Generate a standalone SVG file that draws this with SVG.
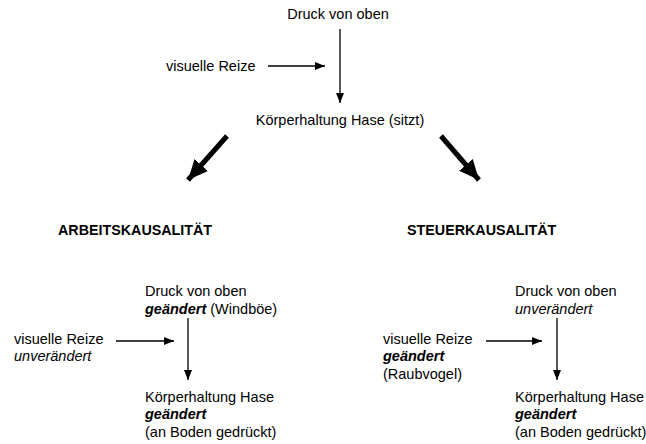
<svg xmlns="http://www.w3.org/2000/svg" width="646" height="444" viewBox="0 0 646 444">
<style>
text{font-family:"Liberation Sans",Arial,sans-serif;font-size:14.5px;fill:#000}
.h{font-weight:bold;font-size:14.3px}
.b{font-weight:bold;font-style:italic}
.i{font-style:italic}
.c{stroke:#000;stroke-width:1.3;fill:none}
.t{stroke:#000;stroke-width:5;fill:none}
</style>
<defs>
<marker id="a" viewBox="0 0 10 8" refX="10" refY="4" markerWidth="10" markerHeight="8" markerUnits="userSpaceOnUse" orient="auto"><path d="M0,0L10,4L0,8z" fill="#000"/></marker>
<marker id="A" viewBox="0 0 20 18" refX="20" refY="9" markerWidth="20" markerHeight="18" markerUnits="userSpaceOnUse" orient="auto"><path d="M0,0L20,9L0,18z" fill="#000"/></marker>
</defs>
<g id="top">
<g id="n-druck"><text x="338" y="19" text-anchor="middle">Druck von oben</text></g>
<g id="n-visuell"><text x="166" y="71">visuelle Reize</text></g>
<g id="n-koerper"><text x="340" y="125" text-anchor="middle">Körperhaltung Hase (sitzt)</text></g>
</g>
<g id="n-arbeit"><text class="h" x="58" y="235">ARBEITSKAUSALITÄT</text></g>
<g id="n-steuer"><text class="h" x="407" y="235">STEUERKAUSALITÄT</text></g>
<g id="left">
<g id="l-druck"><text x="145" y="296">Druck von oben</text><text x="145" y="313.5"><tspan class="b">geändert</tspan> (Windböe)</text></g>
<g id="l-visuell"><text x="14" y="343.5">visuelle Reize</text><text class="i" x="14" y="361">unverändert</text></g>
<g id="l-koerper"><text x="145" y="402">Körperhaltung Hase</text><text class="b" x="145" y="419">geändert</text><text x="145" y="436.5">(an Boden gedrückt)</text></g>
</g>
<g id="right">
<g id="r-druck"><text x="515" y="296">Druck von oben</text><text class="i" x="515" y="313.5">unverändert</text></g>
<g id="r-visuell"><text x="383" y="343.5">visuelle Reize</text><text class="b" x="383" y="361">geändert</text><text x="383" y="378.5">(Raubvogel)</text></g>
<g id="r-koerper"><text x="515" y="402">Körperhaltung Hase</text><text class="b" x="515" y="419">geändert</text><text x="515" y="436.5">(an Boden gedrückt)</text></g>
</g>
<g id="connectors">
<line class="c" x1="340" y1="29" x2="340" y2="103" marker-end="url(#a)"/>
<line class="c" x1="268" y1="66" x2="325" y2="66" marker-end="url(#a)"/>
<line class="t" x1="227" y1="136" x2="188" y2="180" marker-end="url(#A)"/>
<line class="t" x1="441" y1="136" x2="479" y2="180" marker-end="url(#A)"/>
<line class="c" x1="188" y1="318" x2="188" y2="380" marker-end="url(#a)"/>
<line class="c" x1="116" y1="341" x2="174" y2="341" marker-end="url(#a)"/>
<line class="c" x1="557" y1="318" x2="557" y2="380" marker-end="url(#a)"/>
<line class="c" x1="486" y1="341" x2="542" y2="341" marker-end="url(#a)"/>
</g>
</svg>
